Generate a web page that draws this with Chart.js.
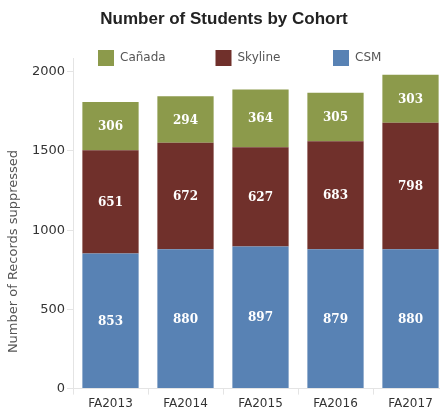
<!DOCTYPE html>
<html>
<head>
<meta charset="utf-8">
<script src="https://cdn.jsdelivr.net/npm/chart.js@4"></script>
<style>
  html, body { margin: 0; padding: 0; background: #fff; overflow: hidden; }
  #wrap { position: absolute; left: 0; top: 0; width: 455px; height: 409px; }
</style>
</head>
<body>
<div id="wrap"><canvas id="c"></canvas></div>
<script>
const categories = ['FA2013', 'FA2014', 'FA2015', 'FA2016', 'FA2017'];
const csm = [853, 880, 897, 879, 880];
const skyline = [651, 672, 627, 683, 798];
const canada = [306, 294, 364, 305, 303];
const yTicks = [0, 500, 1000, 1500, 2000];
const seriesNames = ['Cañada', 'Skyline', 'CSM'];
const colors = { 'Cañada': '#8c9a4b', 'Skyline': '#70302b', 'CSM': '#5882b4' };
const chartTitle = 'Number of Students by Cohort';
const yTitle = 'Number of Records suppressed';

const labelPlugin = {
  id: 'barLabels',
  afterDatasetsDraw(chart) {
    const ctx = chart.ctx;
    ctx.save();
    ctx.font = 'bold 12px "DejaVu Serif"';
    ctx.fillStyle = '#ffffff';
    ctx.textAlign = 'center';
    ctx.textBaseline = 'middle';
    chart.data.datasets.forEach((ds, di) => {
      const meta = chart.getDatasetMeta(di);
      meta.data.forEach((el, i) => {
        const p = el.getProps(['x', 'y', 'base'], true);
        ctx.fillText(String(ds.data[i]), p.x, (p.y + p.base) / 2 + 1);
      });
    });
    ctx.restore();
  }
};

const legendPlugin = {
  id: 'customLegend',
  afterDraw(chart) {
    const ctx = chart.ctx;
    ctx.save();
    ctx.font = '12px "DejaVu Sans"';
    ctx.textBaseline = 'middle';
    ctx.textAlign = 'left';
    const startX = 98, step = 117.5, boxTop = 50, box = 16;
    seriesNames.forEach((name, i) => {
      const x = startX + i * step;
      ctx.fillStyle = colors[name];
      ctx.fillRect(x, boxTop, box, box);
      ctx.fillStyle = '#555555';
      ctx.fillText(name, x + box + 6, boxTop + box / 2);
    });
    ctx.restore();
  }
};

const yTitlePlugin = {
  id: 'yTitle',
  afterDraw(chart) {
    const ctx = chart.ctx;
    ctx.save();
    ctx.translate(13.5, 251.5);
    ctx.rotate(-Math.PI / 2);
    ctx.font = '13px "DejaVu Sans"';
    ctx.fillStyle = '#555555';
    ctx.textAlign = 'center';
    ctx.textBaseline = 'middle';
    ctx.fillText(yTitle, 0, 0);
    ctx.restore();
  }
};

new Chart(document.getElementById('c'), {
  type: 'bar',
  data: {
    labels: categories,
    datasets: [
      { label: 'CSM', data: csm, backgroundColor: colors['CSM'] },
      { label: 'Skyline', data: skyline, backgroundColor: colors['Skyline'] },
      { label: 'Cañada', data: canada, backgroundColor: colors['Cañada'] }
    ]
  },
  options: {
    responsive: true,
    maintainAspectRatio: false,
    animation: false,
    layout: { padding: { left: 0, right: 7, top: 0, bottom: -4 } },
    datasets: { bar: { barPercentage: 1, categoryPercentage: 0.75 } },
    plugins: {
      legend: { display: false },
      tooltip: { enabled: false },
      title: {
        display: true,
        text: chartTitle,
        color: '#222222',
        font: { family: '"Liberation Sans"', size: 17, weight: 'bold' },
        padding: { top: 9, bottom: 28.6 }
      }
    },
    scales: {
      x: {
        stacked: true,
        grid: { drawOnChartArea: false, offset: true, tickLength: 6, color: '#e4e4e4' },
        border: { color: '#e4e4e4' },
        ticks: { color: '#333333', font: { family: '"DejaVu Sans"', size: 12 }, padding: 2 }
      },
      y: {
        stacked: true,
        min: 0,
        max: 2087,
        afterBuildTicks: (axis) => { axis.ticks = yTicks.map(v => ({ value: v })); },
        afterFit: (scale) => { scale.width = 73; },
        grid: { drawOnChartArea: false, tickLength: 6, color: '#e4e4e4' },
        border: { color: '#e4e4e4' },
        ticks: {
          color: '#333333',
          font: { family: '"DejaVu Sans"', size: 13 },
          padding: 2,
          callback: (v) => String(v)
        }
      }
    }
  },
  plugins: [labelPlugin, legendPlugin, yTitlePlugin]
});
</script>
</body>
</html>
